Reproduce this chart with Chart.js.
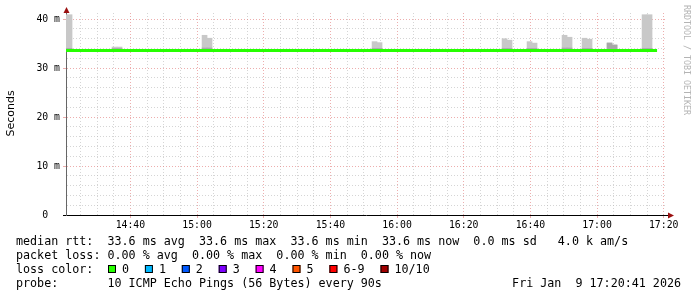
<!DOCTYPE html>
<html>
<head>
<meta charset="utf-8">
<script src="https://cdn.jsdelivr.net/npm/chart.js@4.4.1/dist/chart.umd.min.js"></script>
<style>
  html, body { margin: 0; padding: 0; background: #fff; }
  canvas { display: block; }
</style>
</head>
<body>
<canvas id="smokeChart" width="697" height="297"></canvas>
<script>
// 3 hour window, ending Fri Jan 9 17:20:41 2026
const graphStart = '14:20:41';
const graphEnd = '17:20:41';

// axes
const yTickValues = [0, 10, 20, 30, 40];
const yTickLabels = ['0  ', '10 m', '20 m', '30 m', '40 m'];
const yMax = 41.25;
const xTickLabels = ['14:40', '15:00', '15:20', '15:40', '16:00', '16:20', '16:40', '17:00', '17:20'];

// median rtt (ms), flat over the whole period
const medianTimes = ['14:19:30', '17:18:00'];
const medianValues = [33.6, 33.6];

// smoke = spread of the 10 pings, one entry per 90 s step (start of step)
const smokeTimes = ['14:19:30', '14:21:00', '14:34:30', '14:36:00', '15:01:30', '15:03:00',
    '15:52:30', '15:54:00', '16:31:30', '16:33:00', '16:39:00', '16:40:30', '16:49:30',
    '16:51:00', '16:55:30', '16:57:00', '17:03:00', '17:04:30', '17:13:30', '17:15:00'];
const smokeHigh = [40.9, 40.9, 34.3, 34.3, 36.7, 36.1, 35.4, 35.2, 36.0, 35.7,
    35.4, 35.1, 36.7, 36.3, 36.1, 35.9, 35.2, 34.8, 40.9, 40.9];
const smokeInner = [34.0, 34.0, 34.0, 34.0, 34.1, 34.1, 34.0, 34.0, 34.0, 34.0,
    34.0, 34.0, 34.1, 34.1, 34.0, 34.0, 35.05, 34.65, 34.0, 34.0];
const smokeBase = 33.6;

// legend
const lossLabels = ['0', '1', '2', '3', '4', '5', '6-9', '10/10'];
const lossColors = ['#26ff00', '#00b8ff', '#0059ff', '#7e00ff', '#ff00ff', '#ff5500', '#ff0000', '#a10000'];
const legendRtt = 'median rtt:  33.6 ms avg  33.6 ms max  33.6 ms min  33.6 ms now  0.0 ms sd   4.0 k am/s';
const legendLoss = 'packet loss: 0.00 % avg  0.00 % max  0.00 % min  0.00 % now';
const legendProbe = 'probe:       10 ICMP Echo Pings (56 Bytes) every 90s';
const legendDate = 'Fri Jan  9 17:20:41 2026';

const MONO = "'DejaVu Sans Mono', monospace";
const majorGrid = 'rgba(225, 120, 120, 0.6)';
const minorGrid = 'rgba(185, 185, 185, 0.6)';
const arrowColor = '#9b1010';

function toSec(t) {
    const p = t.split(':').map(Number);
    return p[0] * 3600 + p[1] * 60 + (p[2] || 0);
}

const xMin = toSec(graphStart);
const xMax = toSec(graphEnd);
const majorX = xTickLabels.map(toSec);

const smokeOuter = smokeTimes.map((t, i) => ({ x: toSec(t) + 45, y: [smokeBase, smokeHigh[i]] }));
const smokeDark = smokeTimes.map((t, i) => ({ x: toSec(t) + 45, y: [smokeBase, smokeInner[i]] }));
const medianData = medianTimes.map((t, i) => ({ x: toSec(t), y: medianValues[i] }));

// extra drawing: background, arrows, titles, legend text
const decor = {
    id: 'decor',
    beforeDraw(chart) {
        const ctx = chart.ctx;
        ctx.save();
        ctx.fillStyle = '#fff';
        ctx.fillRect(0, 0, chart.width, chart.height);
        ctx.restore();
    },
    afterDraw(chart) {
        const ctx = chart.ctx;
        const a = chart.chartArea;
        ctx.save();

        // axis extensions + arrows
        ctx.strokeStyle = '#000';
        ctx.lineWidth = 1;
        ctx.beginPath();
        ctx.moveTo(a.left - 3, a.bottom + 0.5);
        ctx.lineTo(a.left, a.bottom + 0.5);
        ctx.moveTo(a.right, a.bottom + 0.5);
        ctx.lineTo(a.right + 3, a.bottom + 0.5);
        ctx.stroke();

        ctx.fillStyle = arrowColor;
        ctx.beginPath();
        ctx.moveTo(a.left + 0.5, a.top - 6);
        ctx.lineTo(a.left - 2.5, a.top);
        ctx.lineTo(a.left + 3.5, a.top);
        ctx.closePath();
        ctx.fill();
        ctx.beginPath();
        ctx.moveTo(a.right + 8, a.bottom + 0.5);
        ctx.lineTo(a.right + 2, a.bottom - 2.5);
        ctx.lineTo(a.right + 2, a.bottom + 3.5);
        ctx.closePath();
        ctx.fill();

        // y title
        ctx.fillStyle = '#000';
        ctx.font = "11px 'DejaVu Sans', sans-serif";
        ctx.textAlign = 'center';
        ctx.textBaseline = 'middle';
        ctx.translate(11, 113.5);
        ctx.rotate(-Math.PI / 2);
        ctx.fillText('Seconds', 0, 0);
        ctx.setTransform(1, 0, 0, 1, 0, 0);

        // watermark
        ctx.fillStyle = '#b4b4b4';
        ctx.font = '8.3px ' + MONO;
        ctx.textAlign = 'left';
        ctx.translate(686.5, 5);
        ctx.rotate(Math.PI / 2);
        ctx.fillText('RRDTOOL / TOBI OETIKER', 0, 0);
        ctx.setTransform(1, 0, 0, 1, 0, 0);

        // legend
        ctx.fillStyle = '#000';
        ctx.font = '11.7px ' + MONO;
        ctx.textBaseline = 'alphabetic';
        ctx.textAlign = 'left';
        ctx.fillText(legendRtt, 16, 245);
        ctx.fillText(legendLoss, 16, 259);
        ctx.fillText('loss color:', 16, 272.7);
        ctx.fillText(legendProbe, 16, 286.5);
        ctx.textAlign = 'right';
        ctx.fillText(legendDate, 681, 286.5);

        ctx.textAlign = 'left';
        let bx = 108;
        lossLabels.forEach((lab, i) => {
            ctx.fillStyle = lossColors[i];
            ctx.fillRect(bx, 265, 8, 8);
            ctx.strokeStyle = '#000';
            ctx.strokeRect(bx + 0.5, 265.5, 7, 7);
            ctx.fillStyle = '#000';
            ctx.fillText(lab, bx + 14, 272.7);
            bx += 29.8 + 7.1 * lab.length;
        });

        ctx.restore();
    }
};

new Chart(document.getElementById('smokeChart'), {
    type: 'line',
    data: {
        datasets: [
            {
                type: 'bar',
                label: 'smoke',
                data: smokeOuter,
                backgroundColor: '#c8c8c8',
                borderWidth: 0,
                grouped: false,
                barPercentage: 1,
                categoryPercentage: 1,
                order: 3
            },
            {
                type: 'bar',
                label: 'smoke inner',
                data: smokeDark,
                backgroundColor: '#a8a8a8',
                borderWidth: 0,
                grouped: false,
                barPercentage: 1,
                categoryPercentage: 1,
                order: 2
            },
            {
                type: 'line',
                label: 'median rtt',
                data: medianData,
                borderColor: lossColors[0],
                borderWidth: 3,
                pointRadius: 0,
                tension: 0,
                fill: false,
                order: 1
            }
        ]
    },
    options: {
        responsive: false,
        animation: false,
        devicePixelRatio: 1,
        layout: { padding: { top: 13, right: 31, left: 0, bottom: 0 } },
        plugins: {
            legend: { display: false },
            tooltip: { enabled: false }
        },
        scales: {
            x: {
                type: 'linear',
                min: xMin,
                max: xMax,
                stacked: true,
                offset: false,
                afterFit: s => { s.height = 82; },
                afterBuildTicks: s => {
                    const ticks = [];
                    for (let v = Math.ceil(xMin / 300) * 300; v <= xMax; v += 300) ticks.push({ value: v });
                    s.ticks = ticks;
                },
                grid: {
                    offset: false,
                    color: c => majorX.includes(c.tick.value) ? majorGrid : minorGrid,
                    tickColor: c => majorX.includes(c.tick.value) ? majorGrid : 'rgba(0,0,0,0)',
                    tickLength: 3
                },
                border: { color: '#000', dash: [1, 2] },
                ticks: {
                    autoSkip: false,
                    maxRotation: 0,
                    padding: 2,
                    color: '#000',
                    font: { family: MONO, size: 9.8 },
                    callback: v => {
                        const i = majorX.indexOf(v);
                        return i >= 0 ? xTickLabels[i] : '';
                    }
                }
            },
            y: {
                min: 0,
                max: yMax,
                stacked: false,
                afterFit: s => { s.width = 66; },
                afterBuildTicks: s => {
                    const ticks = [];
                    for (let v = 0; v <= 40; v += 2) ticks.push({ value: v });
                    s.ticks = ticks;
                },
                grid: {
                    color: c => yTickValues.includes(c.tick.value) ? majorGrid : minorGrid,
                    tickColor: c => yTickValues.includes(c.tick.value) ? majorGrid : 'rgba(0,0,0,0)',
                    tickLength: 3
                },
                border: { color: '#666', dash: [1, 2] },
                ticks: {
                    autoSkip: false,
                    padding: 3,
                    color: '#000',
                    font: { family: MONO, size: 9.8 },
                    callback: v => {
                        const i = yTickValues.indexOf(v);
                        return i >= 0 ? yTickLabels[i] : '';
                    }
                }
            }
        }
    },
    plugins: [decor]
});
</script>
</body>
</html>
